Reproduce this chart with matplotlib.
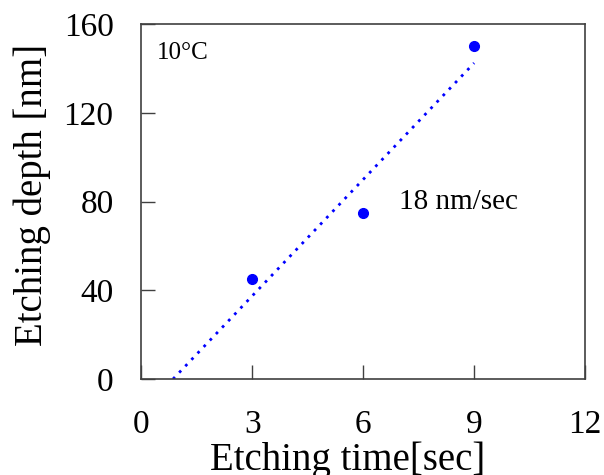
import numpy as np
import matplotlib
matplotlib.use("Agg")
import matplotlib.pyplot as plt

plt.rcParams['font.family'] = ['Liberation Serif', 'DejaVu Serif']

time_sec = [3, 6, 9]
depth_nm = [45, 75, 150]
x_ticks = [0, 3, 6, 9, 12]
y_ticks = [0, 40, 80, 120, 160]

fig = plt.figure(figsize=(6.04, 4.75), dpi=100)
ax = fig.add_axes([0.234, 0.202, 0.7346, 0.747])

# linear fit
slope, intercept = np.polyfit(time_sec, depth_nm, 1)
x0 = -intercept / slope
xf = np.array([x0, max(time_sec)])
ax.plot(xf, slope * xf + intercept, linestyle=(0, (1, 2.2)), color='#0000ff', lw=2)
ax.plot(time_sec, depth_nm, 'o', color='#0000ff', ms=7, zorder=3)

ax.set_xlim(0, 12)
ax.set_ylim(0, 160)
ax.set_xticks(x_ticks)
ax.set_yticks(y_ticks)
ax.tick_params(direction='in', length=10, width=1, labelsize=24, colors='#404040', labelcolor='black')
ax.tick_params(axis='x', pad=22)
ax.tick_params(axis='y', pad=20)
for s in ax.spines.values():
    s.set_color('#404040')
    s.set_linewidth(1.2)

ax.set_xlabel('Etching time[sec]', fontsize=28, labelpad=1)
ax.set_ylabel('Etching depth [nm]', fontsize=28, labelpad=9)
ax.xaxis.label.set_x(0.466)
ax.yaxis.label.set_y(0.518)

ax.text(0.035, 0.95, '10°C', transform=ax.transAxes, fontsize=18, va='top', ha='left')
ax.text(6.97, 80, '18 nm/sec', fontsize=21, va='center', ha='left')

fig.savefig('out.png', dpi=100)
